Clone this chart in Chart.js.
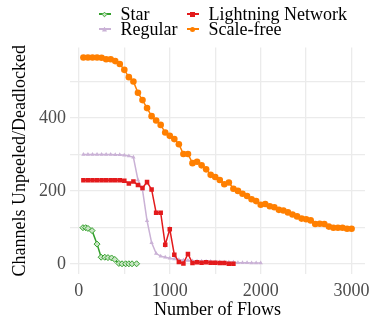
<!DOCTYPE html>
<html>
<head>
<meta charset="utf-8">
<script src="https://cdn.jsdelivr.net/npm/chart.js@4/dist/chart.umd.min.js"></script>
<style>
    body { margin: 0; background: #fff; }
    #wrap { position: relative; width: 370px; height: 320px; font-family: 'Liberation Serif', serif; }
    #chart { position: absolute; left: 0; top: 0; }
    .key-item { position: absolute; height: 18px; font-size: 18px; line-height: 18px; white-space: nowrap; color: #000; }
    .key-line { position: absolute; left: 0; top: 8px; width: 12px; height: 1.5px; }
    .key-mark { position: absolute; left: 3.5px; top: 6.5px; width: 5px; height: 5px; box-sizing: border-box; }
    .key-text { position: absolute; left: 22px; top: 0; }
</style>
</head>
<body>
<div id="wrap">
    <canvas id="chart" width="370" height="320"></canvas>
</div>
<script>
// series names, in legend order (column by column)
const seriesNames = ['Star', 'Regular', 'Lightning Network', 'Scale-free']

// number of flows (x) for each series
const flows = [50, 100, 150, 200, 250, 300, 350, 400, 450, 500,
    550, 600, 650, 700, 750, 800, 850, 900, 950, 1000,
    1050, 1100, 1150, 1200, 1250, 1300, 1350, 1400, 1450, 1500,
    1550, 1600, 1650, 1700, 1750, 1800, 1850, 1900, 1950, 2000,
    2050, 2100, 2150, 2200, 2250, 2300, 2350, 2400, 2450, 2500,
    2550, 2600, 2650, 2700, 2750, 2800, 2850, 2900, 2950, 3000]
const starFlows = [45, 75, 100, 145, 200, 245, 285, 320, 360, 395, 440, 475, 515, 550, 585, 635]

// channels unpeeled / deadlocked
const starValues = [99, 99, 97, 91, 54, 18, 18, 17, 16, 12, 1, 0, 0, 0, 0, 0]
const regularValues = [300, 300, 300, 300, 300, 300, 300, 299, 299, 298,
    296, 292, 230, 203, 118, 58, 28, 21, 18, 15,
    13, 11, 10, 9, 8, 7, 7, 6, 6, 5,
    5, 4, 4, 4, 3, 3, 3, 2, 2, 2]
const lightningValues = [229, 229, 229, 229, 229, 229, 229, 229, 229, 228,
    220, 226, 216, 208, 224, 204, 140, 140, 52, 95,
    25, 5, 1, 27, 2, 4, 3, 4, 3, 3,
    2, 2, 0, 0]
const scaleFreeValues = [566, 566, 566, 566, 565, 561, 561, 556, 548, 532,
    512, 500, 469, 449, 427, 405, 393, 381, 360, 351,
    342, 328, 301, 301, 276, 280, 270, 259, 244, 238,
    230, 218, 223, 206, 200, 192, 186, 177, 172, 162,
    164, 158, 155, 148, 146, 141, 135, 130, 124, 122,
    119, 109, 110, 109, 102, 99, 99, 99, 96, 96]

// axis ticks
const xGrid = [0, 500, 1000, 1500, 2000, 2500, 3000]
const xTicks = [0, 1000, 2000, 3000]
const yGrid = [0, 100, 200, 300, 400, 500]
const yTicks = [0, 200, 400]

function points(xs, ys) {
    return ys.map((y, i) => ({x: xs[i], y: y}))
}

const font = 'Liberation Serif'

// Star first so it is drawn on top, then Lightning over Regular
const datasets = [
    {label: seriesNames[0], data: points(starFlows, starValues), borderColor: '#33a02c',
        backgroundColor: '#c9e6c5', pointStyle: 'rectRot', pointRadius: 3, pointBorderWidth: 1},
    {label: seriesNames[2], data: points(flows, lightningValues), borderColor: '#e31a1c',
        backgroundColor: '#e31a1c', pointStyle: 'rect', pointRadius: 3.2, pointBorderWidth: 0},
    {label: seriesNames[1], data: points(flows, regularValues), borderColor: '#cab2d6',
        backgroundColor: '#cab2d6', pointStyle: 'triangle', pointRadius: 2.5, pointBorderWidth: 0},
    {label: seriesNames[3], data: points(flows, scaleFreeValues), borderColor: '#ff7f00',
        backgroundColor: '#ff7f00', pointStyle: 'circle', pointRadius: 3.3, pointBorderWidth: 0}
]
datasets.forEach(d => {
    d.borderWidth = 1.5
    d.tension = 0
    d.pointHoverRadius = d.pointRadius
})

// keep the plot panel where the original has it
function noPad(axis) {
    axis.paddingLeft = 0
    axis.paddingRight = 0
    axis.paddingTop = 0
    axis.paddingBottom = 0
}

let ctx = document.getElementById('chart')
let chart = new Chart(ctx, {
    type: 'line',
    data: {datasets: datasets},
    options: {
        responsive: false,
        animation: false,
        layout: {padding: {top: 47.6, right: 5, left: 0, bottom: 0}},
        plugins: {
            legend: {display: false},
            tooltip: {enabled: false}
        },
        scales: {
            x: {
                type: 'linear',
                min: -97.5,
                max: 3147.5,
                afterBuildTicks: axis => { axis.ticks = xGrid.map(v => ({value: v})) },
                afterFit: axis => { axis.height = 46; noPad(axis) },
                grid: {color: '#ebebeb', lineWidth: 1.3, drawTicks: false},
                border: {display: false},
                ticks: {
                    maxRotation: 0,
                    autoSkip: false,
                    padding: 6,
                    color: '#4d4d4d',
                    font: {family: font, size: 18},
                    callback: v => xTicks.includes(v) ? String(v) : ''
                },
                title: {display: true, text: 'Number of Flows', color: '#000',
                    font: {family: font, size: 18}, padding: {top: 0, bottom: -1}}
            },
            y: {
                min: -28,
                max: 593,
                afterBuildTicks: axis => { axis.ticks = yGrid.map(v => ({value: v})) },
                afterFit: axis => { axis.width = 70; noPad(axis) },
                grid: {color: '#ebebeb', lineWidth: 1.3, drawTicks: false},
                border: {display: false},
                ticks: {
                    autoSkip: false,
                    padding: 4,
                    color: '#4d4d4d',
                    font: {family: font, size: 18},
                    callback: v => yTicks.includes(v) ? String(v) : ''
                },
                title: {display: true, text: 'Channels Unpeeled/Deadlocked', color: '#000',
                    font: {family: font, size: 18}, padding: {top: 9, bottom: 0}}
            }
        }
    }
})

// legend, two columns like the original
const legendPos = [[98.5, 14], [98.5, 29], [186.5, 14], [186.5, 29]]
const wrap = document.getElementById('wrap')
seriesNames.forEach((name, i) => {
    let ds = datasets.find(d => d.label === name)
    let item = document.createElement('div')
    item.className = 'key-item'
    item.style.left = legendPos[i][0] + 'px'
    item.style.top = (legendPos[i][1] - 9) + 'px'
    let line = document.createElement('span')
    line.className = 'key-line'
    line.style.background = ds.borderColor
    let mark = document.createElement('span')
    mark.className = 'key-mark'
    mark.style.background = ds.backgroundColor
    if (ds.pointStyle === 'circle') mark.style.borderRadius = '50%'
    if (ds.pointStyle === 'rectRot') {
        mark.style.transform = 'rotate(45deg) scale(0.8)'
        mark.style.border = '1px solid ' + ds.borderColor
    }
    if (ds.pointStyle === 'triangle') mark.style.clipPath = 'polygon(50% 0, 100% 100%, 0 100%)'
    let text = document.createElement('span')
    text.className = 'key-text'
    text.textContent = name
    item.appendChild(line)
    item.appendChild(mark)
    item.appendChild(text)
    wrap.appendChild(item)
})
</script>
</body>
</html>
